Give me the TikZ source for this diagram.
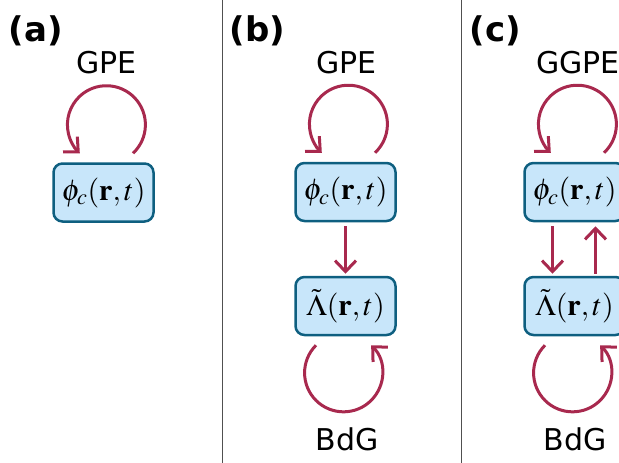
\documentclass[tikz,border=0pt]{standalone}
\usepackage{amsmath}
\usepackage{mathptmx}
\usepackage[no-math]{fontspec}
\setmainfont{DejaVu Sans}
\usetikzlibrary{arrows.meta}
\definecolor{boxblue}{HTML}{0E5F80}
\definecolor{boxfill}{HTML}{C8E6FA}
\definecolor{loopred}{HTML}{A8294E}
\definecolor{sepgray}{HTML}{505050}

\begin{document}
\begin{tikzpicture}[x=1pt,y=-1pt,
	state/.style={draw=boxblue, fill=boxfill, line width=2.5pt, rounded corners=9pt,
		minimum width=100pt, minimum height=58pt, inner sep=0pt, font=\fontsize{30}{34}\selectfont},
	flow/.style={draw=loopred, line width=3pt, -{Straight Barb[length=11pt,width=21pt]}},
	eqn/.style={font=\fontsize{30}{34}\selectfont},
	panel/.style={anchor=west, font=\fontsize{34}{38}\selectfont\bfseries}]
		\clip (0,0) rectangle (619,463);
		\draw[sepgray, line width=1pt] (222,0) -- (222,463);
		\draw[sepgray, line width=1pt] (461,0) -- (461,463);
		% (a)
		\node[panel] (laba) at (5,31) {(a)};
		\node[state] (phia) at (103.5,192.5) {$\phi_c(\mathbf{r},t)$};
		\node[eqn] (gpea) at (106.5,63) {GPE};
		\draw[flow] ([xshift=29.5pt,yshift=9pt]phia.north) arc[start angle=-47, end angle=227, radius=39pt];
		% (b)
		\node[panel] (labb) at (226,31) {(b)};
		\node[state] (phib) at (345.5,192) {$\phi_c(\mathbf{r},t)$};
		\node[state] (lamb) at (345.5,306) {$\tilde{\boldsymbol{\Lambda}}(\mathbf{r},t)$};
		\node[eqn] (gpeb) at (346.5,63) {GPE};
		\node[eqn] (bdgb) at (347,439) {BdG};
		\draw[flow] ([xshift=29.5pt,yshift=9pt]phib.north) arc[start angle=-47, end angle=227, radius=39pt];
		\draw[flow, shorten <=4pt, shorten >=2pt] (phib.south) -- (lamb.north);
		\draw[flow] ([xshift=-29.5pt,yshift=-9pt]lamb.south) arc[start angle=135, end angle=405, radius=39pt];
		% (c)
		\node[panel] (labc) at (466,31) {(c)};
		\node[state] (phic) at (574.5,192) {$\phi_c(\mathbf{r},t)$};
		\node[state] (lamc) at (574.5,306) {$\tilde{\boldsymbol{\Lambda}}(\mathbf{r},t)$};
		\node[eqn] (gpec) at (578,63) {GGPE};
		\node[eqn] (bdgc) at (575,439) {BdG};
		\draw[flow] ([xshift=29.5pt,yshift=9pt]phic.north) arc[start angle=-47, end angle=227, radius=39pt];
		\draw[flow, shorten <=4pt, shorten >=2pt] ([xshift=-22pt]phic.south) -- ([xshift=-22pt]lamc.north);
		\draw[flow, shorten <=2pt, shorten >=4pt] ([xshift=21pt]lamc.north) -- ([xshift=21pt]phic.south);
		\draw[flow] ([xshift=-29.5pt,yshift=-9pt]lamc.south) arc[start angle=135, end angle=405, radius=39pt];
		\end{tikzpicture}
\end{document}
